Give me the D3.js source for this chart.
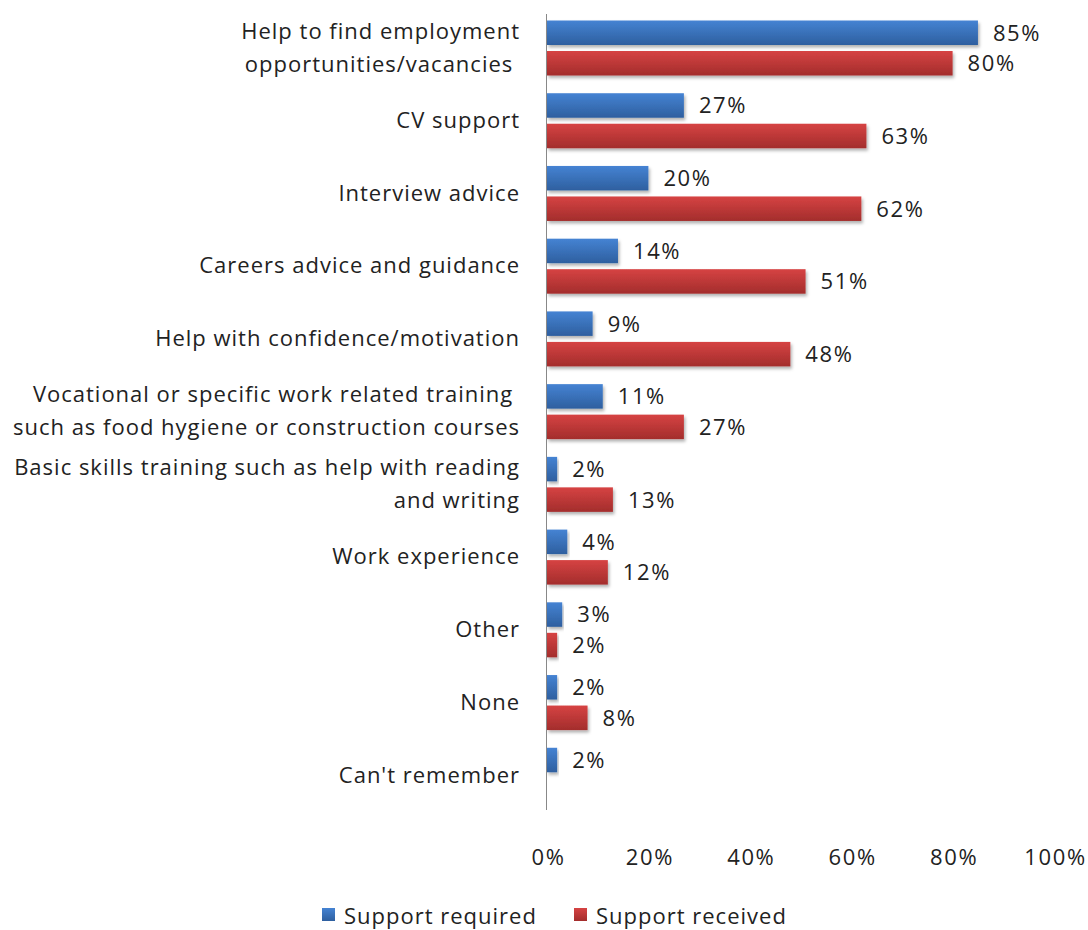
<!DOCTYPE html>
<html>
<head>
<meta charset="utf-8">
<script src="https://cdn.jsdelivr.net/npm/d3@7"></script>
<style>
  body { margin: 0; background: #fff; }
  svg { display: block; }
  text { font-family: "Open Sans", "Lato", sans-serif; fill: #222; }
</style>
</head>
<body>
<svg id="chart" width="1088" height="930"></svg>
<script>
// Categories (each entry is an array of label lines)
const categories = [
  ["Help to find employment", "opportunities/vacancies "],
  ["CV support"],
  ["Interview advice"],
  ["Careers advice and guidance"],
  ["Help with confidence/motivation"],
  ["Vocational or specific work related training ", "such as food hygiene or construction courses"],
  ["Basic skills training such as help with reading", "and writing"],
  ["Work experience"],
  ["Other"],
  ["None"],
  ["Can't remember"]
];
const supportRequired = [85, 27, 20, 14, 9, 11, 2, 4, 3, 2, 2];
const supportReceived = [80, 63, 62, 51, 48, 27, 13, 12, 2, 8, null];
const seriesNames = ["Support required", "Support received"];
const xTicks = [0, 20, 40, 60, 80, 100];

const svg = d3.select("#chart");
const plotLeft = 547, plotRight = 1054, plotTop = 14, plotBottom = 814;
const fontSize = 22, spacing = 1, numSpacing = 1.6;

const x = d3.scaleLinear().domain([0, 100]).range([plotLeft, plotRight]);
const y = d3.scaleBand().domain(d3.range(categories.length)).range([plotTop, plotBottom]);
const bandH = y.bandwidth();
const barH = 24.5;

const defs = svg.append("defs");
function grad(id, c1, c2) {
  const g = defs.append("linearGradient").attr("id", id)
    .attr("x1", 0).attr("y1", 0).attr("x2", 0).attr("y2", 1);
  g.append("stop").attr("offset", "0%").attr("stop-color", c1);
  g.append("stop").attr("offset", "100%").attr("stop-color", c2);
}
grad("gBlue", "#4583d3", "#2e5f9f");
grad("gRed", "#d64343", "#a32d2c");
const f = defs.append("filter").attr("id", "shadow")
  .attr("x", "-5%").attr("y", "-20%").attr("width", "115%").attr("height", "170%");
f.append("feDropShadow").attr("dx", 1.5).attr("dy", 2.5).attr("stdDeviation", 1.8)
  .attr("flood-color", "#000").attr("flood-opacity", 0.3);

const series = [
  { name: seriesNames[0], values: supportRequired, fill: "url(#gBlue)", offset: 6.5 },
  { name: seriesNames[1], values: supportReceived, fill: "url(#gRed)", offset: 37 }
];

series.forEach(s => {
  const items = s.values.map((v, i) => ({ v, i })).filter(d => d.v !== null);
  svg.append("g").selectAll("rect").data(items).join("rect")
    .attr("x", x(0))
    .attr("y", d => y(d.i) + s.offset)
    .attr("width", d => x(d.v) - x(0))
    .attr("height", barH)
    .attr("fill", s.fill)
    .attr("filter", "url(#shadow)");
  svg.append("g").selectAll("text").data(items).join("text")
    .attr("x", d => x(d.v) + 15)
    .attr("y", d => y(d.i) + s.offset + barH / 2)
    .attr("dy", "0.36em")
    .attr("font-size", fontSize)
    .attr("letter-spacing", numSpacing)
    .text(d => d.v + "%");
});

// vertical category axis line
svg.append("line")
  .attr("x1", plotLeft - 0.5).attr("x2", plotLeft - 0.5)
  .attr("y1", plotTop).attr("y2", plotBottom - 4)
  .attr("stroke", "#888").attr("stroke-width", 1);

// category labels
const lineH = 33;
categories.forEach((lines, i) => {
  const cy = y(i) + bandH / 2 - 3;
  const t = svg.append("text")
    .attr("text-anchor", "end")
    .attr("font-size", fontSize)
    .attr("letter-spacing", spacing)
    .attr("xml:space", "preserve")
    .style("white-space", "pre");
  lines.forEach((ln, k) => {
    t.append("tspan")
      .attr("x", 520)
      .attr("y", cy + (k - (lines.length - 1) / 2) * lineH)
      .attr("dy", "0.36em")
      .text(ln);
  });
});

// x axis tick labels
const xAxis = d3.axisBottom(x).tickValues(xTicks).tickFormat(d => d + "%").tickSize(0).tickPadding(0);
const ax = svg.append("g").attr("transform", `translate(1, ${857})`).call(xAxis);
ax.select(".domain").remove();
ax.selectAll("text").attr("font-size", fontSize).attr("dy", "0.36em")
  .attr("letter-spacing", numSpacing)
  .style("font-family", '"Open Sans", "Lato", sans-serif').attr("fill", "#222");

// legend
const legend = [
  { name: seriesNames[0], fill: "url(#gBlue)", x: 322 },
  { name: seriesNames[1], fill: "url(#gRed)", x: 574 }
];
const lg = svg.append("g");
legend.forEach(l => {
  lg.append("rect").attr("x", l.x).attr("y", 908).attr("width", 13).attr("height", 13).attr("fill", l.fill);
  lg.append("text").attr("x", l.x + 22).attr("y", 916).attr("dy", "0.36em")
    .attr("font-size", fontSize).attr("letter-spacing", spacing).text(l.name);
});
</script>
</body>
</html>
